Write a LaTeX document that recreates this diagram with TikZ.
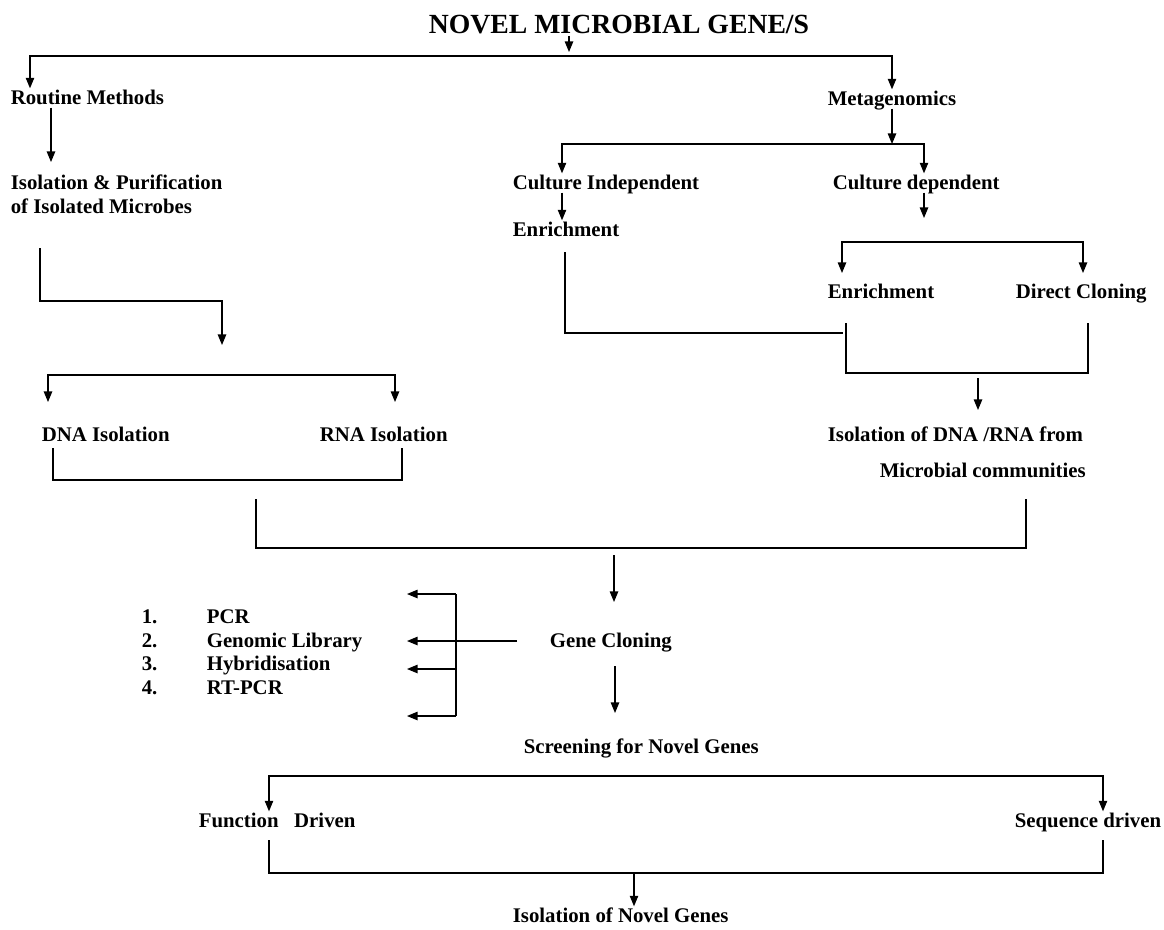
\documentclass[tikz,border=0pt]{standalone}
\usepackage{fontspec}
\setmainfont{Liberation Serif}
\usetikzlibrary{arrows.meta}
\tikzset{
  txt/.style={inner sep=0pt,outer sep=2pt,text height=9.8pt,text depth=0pt,anchor=west},
  head/.style={inner sep=0pt,outer sep=2pt,text height=13pt,text depth=0pt,font=\fontsize{19.7}{22}\selectfont\bfseries},
}
\begin{document}
\begin{tikzpicture}[>={Triangle[length=7.5pt,width=6pt]},line width=0.8pt,x=0.025cm,y=-0.025cm,font=\fontsize{14.8}{17}\selectfont\bfseries]
  \useasboundingbox (0,0) rectangle (1164,929);
  \node[head] (title) at (619,24) {NOVEL MICROBIAL GENE/S};
  \node[txt] (routine) at (8,98) {Routine Methods};
  \node[txt] (meta) at (825,99) {Metagenomics};
  \node[txt] (isopur) at (8,183) {Isolation \& Purification};
  \node[txt] (isomic) at (8,207) {of Isolated Microbes};
  \node[txt] (cind) at (510,183) {Culture Independent};
  \node[txt] (cdep) at (830,183) {Culture dependent};
  \node[txt] (enr1) at (510,230) {Enrichment};
  \node[txt] (enr2) at (825,292) {Enrichment};
  \node[txt] (dclon) at (1013,292) {Direct Cloning};
  \node[txt] (dna) at (39,435) {DNA Isolation};
  \node[txt] (rna) at (317,435) {RNA Isolation};
  \node[txt] (isodr) at (825,435) {Isolation of DNA /RNA from};
  \node[txt] (micro) at (877,471) {Microbial communities};
  \node[txt] (gclon) at (547,641) {Gene Cloning};
  \foreach \i/\y/\t in {1/617/PCR,2/641/Genomic Library,3/664/Hybridisation,4/688/RT-PCR} {
    \node[txt] (n\i) at (139,\y) {\i.};
    \node[txt] (m\i) at (204,\y) {\t};
  }
  \node[txt] (screen) at (521,747) {Screening for Novel Genes};
  \node[txt] (func) at (196,821) {Function~~~Driven};
  \node[txt] (seq) at (1012,821) {Sequence driven};
  \node[txt] (isonov) at (510,916) {Isolation of Novel Genes};
  % top split
  \coordinate (tb) at (569,52);
  \coordinate (b0l) at (30,56); \coordinate (b0r) at (892,56);
  \draw[->] (title.south -| tb) -- (tb);
  \draw[<->] (routine.north -| b0l) -- (b0l) -- (b0r) -- (meta.north -| b0r);
  % routine branch
  \coordinate (r1) at (51,162);
  \draw[->] (routine.south -| r1) -- (r1);
  \coordinate (l1) at (40,248); \coordinate (l2) at (222,345);
  \draw[->] (l1) -- ++(0,53) -| (l2);
  \coordinate (d1) at (48,402); \coordinate (d2) at (395,402);
  \draw[<->] (d1) -- ++(0,-27) -| (d2);
  \coordinate (q1) at (53,448); \coordinate (q2) at (402,448);
  \draw (q1) -- ++(0,32) -| (q2);
  % metagenomics branch
  \coordinate (b1m) at (892,144); \coordinate (b1l) at (562,144); \coordinate (b1r) at (924,144);
  \draw[->] (meta.south -| b1m) -- (b1m);
  \draw[<->] (cind.north -| b1l) -- (b1l) -- (b1r) -- (cdep.north -| b1r);
  \draw[->] (cind.south -| b1l) -- (enr1.north -| b1l);
  \coordinate (c2) at (924,218);
  \draw[->] (cdep.south -| c2) -- (c2);
  \coordinate (e2l) at (842,273); \coordinate (e2r) at (1083,273);
  \draw[<->] (e2l) -- ++(0,-31) -| (e2r);
  \coordinate (k1) at (565,252); \coordinate (k2) at (843,333);
  \draw (k1) |- (k2);
  \coordinate (k3) at (846,323); \coordinate (k4) at (1088,323);
  \draw (k3) -- ++(0,50) -| (k4);
  \coordinate (k5) at (978,378); \coordinate (k6) at (978,410);
  \draw[->] (k5) -- (k6);
  % join and cloning
  \coordinate (p1) at (256,499); \coordinate (p2) at (1026,499);
  \draw (p1) -- ++(0,49) -| (p2);
  \coordinate (g1) at (614,555); \coordinate (g2) at (614,602);
  \draw[->] (g1) -- (g2);
  \coordinate (g0) at (517,641); \coordinate (gv) at (456,641);
  \draw (g0) -- (gv);
  \foreach \i/\y in {1/594,2/641,3/669,4/716} {
    \coordinate (a\i) at (407,\y);
    \draw[->] (a\i -| gv) -- (a\i);
  }
  \draw (a1 -| gv) -- (a4 -| gv);
  \coordinate (s1) at (615,666); \coordinate (s2) at (615,713);
  \draw[->] (s1) -- (s2);
  % screening split
  \coordinate (b4l) at (269,776); \coordinate (b4r) at (1103,776);
  \draw[<->] (func.north -| b4l) -- (b4l) -- (b4r) -- (seq.north -| b4r);
  \coordinate (h1) at (269,840); \coordinate (h2) at (1103,840);
  \draw (h1) -- ++(0,33) -| (h2);
  \coordinate (h3) at (634,873);
  \draw[->] (h3) -- (isonov.north -| h3);
\end{tikzpicture}
\end{document}
